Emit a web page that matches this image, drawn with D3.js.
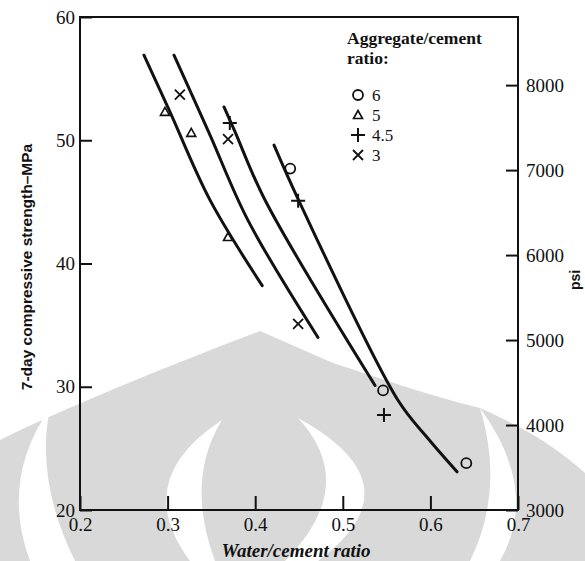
<!DOCTYPE html>
<html>
<head>
<meta charset="utf-8">
<script src="https://cdn.jsdelivr.net/npm/d3@7"></script>
<style>
	body { margin: 0; background: #fff; }
	svg { display: block; }
</style>
</head>
<body>
<svg width="585" height="561"></svg>
<script>
// data
const xTicks = [0.2, 0.3, 0.4, 0.5, 0.6, 0.7];
const mpaTicks = [20, 30, 40, 50, 60];
const psiTicks = [3000, 4000, 5000, 6000, 7000, 8000];
const ratios = ['6', '5', '4.5', '3'];
const symbols = ['circle', 'triangle', 'plus', 'cross'];

const points6 = [[0.440, 47.7], [0.546, 29.7], [0.641, 23.8]];
const points5 = [[0.297, 52.3], [0.327, 50.6], [0.369, 42.15]];
const points45 = [[0.371, 51.4], [0.449, 45.1], [0.547, 27.7]];
const points3 = [[0.314, 53.7], [0.369, 50.1], [0.449, 35.1]];

const curveA = [[0.273, 56.9], [0.3027, 52.3], [0.348, 45.2], [0.408, 38.2]];
const curveB = [[0.3073, 56.9], [0.3473, 50.6], [0.3918, 43.5], [0.4717, 34.0]];
const curveC = [[0.3644, 52.7], [0.3769, 50.7], [0.4112, 45.15], [0.5368, 30.1]];
const curveD = [[0.4215, 49.6], [0.4511, 44.9], [0.563, 28.9], [0.5961, 25.9], [0.6304, 23.1]];

const serif = '\'Liberation Serif\', \'Times New Roman\', serif',
	sans = '\'Liberation Sans\', Arial, sans-serif';

const svg = d3.select('svg'),
	plotLeft = 80, plotRight = 518, plotTop = 17, plotBottom = 510;

// faint watermark behind the figure
const mark = svg.append('g').attr('class', 'watermark');
mark.append('path')
	.attr('d', 'M0,440 C60,410 170,365 260,331 L333,363 C380,378 430,396 480,408 C530,430 560,450 585,473 L585,561 L0,561 Z')
	.attr('fill', '#d9d9d9');
[
	'M50,408 Q0,480 30,561 L75,561 Q35,480 50,408 Z',
	'M222,420 Q130,480 190,561 L215,561 Q185,480 222,420 Z',
	'M298,418 Q420,485 318,561 L285,561 Q360,485 298,418 Z',
	'M480,408 Q540,490 500,561 L470,561 Q505,490 480,408 Z'
].forEach(d => mark.append('path').attr('d', d).attr('fill', '#fff'));

const x = d3.scaleLinear().domain([0.2, 0.7]).range([plotLeft, plotRight]);
const y = d3.scaleLinear().domain([20, 60]).range([plotBottom, plotTop]);
const psi = d3.scaleLinear().domain([3000, 3000 + 40 * 145.04]).range([plotBottom, plotTop]);

function styleAxis(g) {
	g.select('.domain').remove();
	g.attr('font-family', serif).attr('font-size', 19);
	g.selectAll('.tick text').attr('fill', '#111');
	g.selectAll('.tick line').attr('stroke', '#111').attr('stroke-width', 2);
}

svg.append('g')
	.attr('transform', 'translate(0,' + plotBottom + ')')
	.call(d3.axisBottom(x).tickValues(xTicks).tickFormat(d3.format('.1f')).tickSize(-14).tickPadding(8))
	.call(styleAxis);

svg.append('g')
	.attr('transform', 'translate(' + plotLeft + ',0)')
	.call(d3.axisLeft(y).tickValues(mpaTicks).tickSize(-12).tickPadding(5))
	.call(styleAxis);

svg.append('g')
	.attr('transform', 'translate(' + plotRight + ',0)')
	.call(d3.axisRight(psi).tickValues(psiTicks).tickFormat(d3.format('d')).tickSize(-12).tickPadding(8))
	.call(styleAxis);

svg.append('rect')
	.attr('x', plotLeft).attr('y', plotTop)
	.attr('width', plotRight - plotLeft).attr('height', plotBottom - plotTop)
	.attr('fill', 'none').attr('stroke', '#111').attr('stroke-width', 2);

// fitted curves
const line = d3.line().x(d => x(d[0])).y(d => y(d[1])).curve(d3.curveCatmullRom);
svg.append('g')
	.selectAll('path')
	.data([curveA, curveB, curveC, curveD])
	.enter().append('path')
	.attr('d', line)
	.attr('fill', 'none')
	.attr('stroke', '#111')
	.attr('stroke-width', 3)
	.attr('stroke-linecap', 'round');

function drawSymbol(g, type, cx, cy) {
	let s = g.append('g').attr('transform', 'translate(' + cx + ',' + cy + ')')
		.attr('fill', 'none').attr('stroke', '#111').attr('stroke-width', 1.8);
	if (type === 'circle') {
		s.append('circle').attr('r', 5);
	} else if (type === 'triangle') {
		s.append('path').attr('d', 'M0,-4.5 L4.5,3.5 L-4.5,3.5 Z').attr('stroke-width', 1.6);
	} else if (type === 'plus') {
		s.append('path').attr('d', 'M-7,0 H7 M0,-7 V7').attr('stroke-width', 2);
	} else {
		s.append('path').attr('d', 'M-5,-5 L5,5 M-5,5 L5,-5');
	}
}

const marks = svg.append('g').attr('class', 'points');
[points6, points5, points45, points3].forEach((pts, i) => {
	pts.forEach(p => drawSymbol(marks, symbols[i], x(p[0]), y(p[1])));
});

// legend
const legend = svg.append('g').attr('font-family', serif).attr('fill', '#111');
legend.append('text').attr('x', 347).attr('y', 44)
	.attr('font-weight', 'bold').attr('font-size', 17.5).text('Aggregate/cement');
legend.append('text').attr('x', 347).attr('y', 64)
	.attr('font-weight', 'bold').attr('font-size', 17.5).text('ratio:');
ratios.forEach((r, i) => {
	let cy = 95 + i * 20;
	drawSymbol(legend, symbols[i], 358, cy);
	legend.append('text').attr('x', 372).attr('y', cy + 6)
		.attr('font-size', 17).text(r);
});

// axis titles
svg.append('text')
	.attr('x', 296).attr('y', 557)
	.attr('text-anchor', 'middle')
	.attr('font-family', serif)
	.attr('font-weight', 'bold').attr('font-style', 'italic')
	.attr('font-size', 19).attr('fill', '#111')
	.text('Water/cement ratio');

svg.append('text')
	.attr('transform', 'translate(32,267) rotate(-90)')
	.attr('text-anchor', 'middle')
	.attr('font-family', sans)
	.attr('font-weight', 'bold').attr('font-size', 15.5).attr('fill', '#111')
	.text('7-day compressive strength\u2013MPa');

svg.append('text')
	.attr('transform', 'translate(580,280) rotate(-90)')
	.attr('text-anchor', 'middle')
	.attr('font-family', sans)
	.attr('font-weight', 'bold').attr('font-size', 14).attr('fill', '#111')
	.text('psi');
</script>
</body>
</html>
